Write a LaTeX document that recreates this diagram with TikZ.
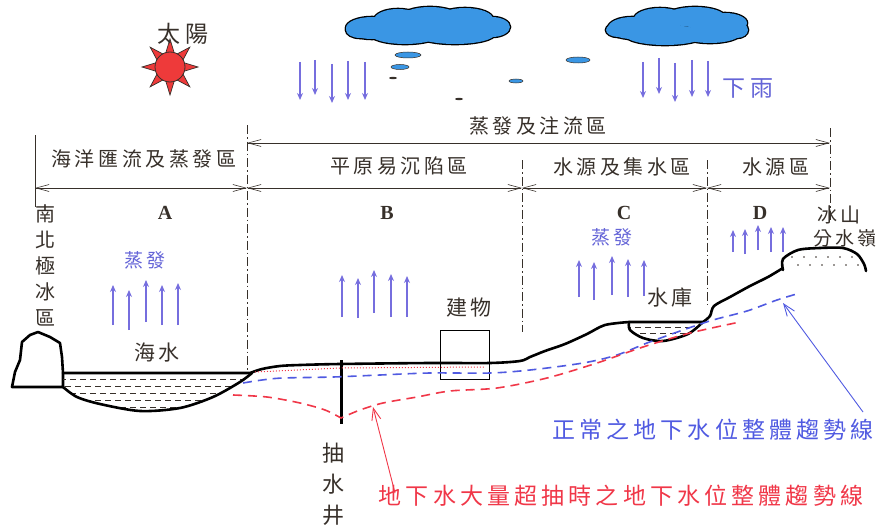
\documentclass[tikz,border=0pt]{standalone}
\usepackage{fontspec}
\usetikzlibrary{arrows.meta}
\newfontfamily\zh{Noto Sans CJK TC}[LetterSpace=18]
\newfontfamily\zhv{Noto Sans CJK TC}
\newfontfamily\lat{Liberation Serif}
\newcommand{\zhsize}[1]{\zh\fontsize{#1}{#1}\selectfont}
\definecolor{ink}{RGB}{55,48,42}
\definecolor{vapor}{RGB}{118,110,222}
\definecolor{vaptext}{RGB}{100,100,215}
\definecolor{normline}{RGB}{80,90,225}
\definecolor{pumpline}{RGB}{240,55,72}
\definecolor{cloudblue}{RGB}{58,150,228}
\definecolor{sunred}{RGB}{238,58,58}
\tikzset{
  dimline/.style={draw=ink, line width=0.6pt, {Straight Barb[length=13pt,width=7pt]}-{Straight Barb[length=13pt,width=7pt]}},
  zoneline/.style={draw=ink, line width=0.9pt, dash pattern=on 9pt off 3pt on 1.5pt off 3pt},
  vapour/.style={draw=vapor, line width=2.2pt, -{Stealth[length=7pt,width=6pt]}},
  ground/.style={draw=black, line width=2.6pt, line join=round, line cap=round},
  hatch/.style={draw=ink, line width=0.9pt, dash pattern=on 6pt off 4pt},
  wtable/.style={line width=1.6pt, dash pattern=on 9pt off 6pt},
  pointer/.style={line width=0.9pt, -{Straight Barb[length=12pt,width=9pt]}},
  puff/.style={draw=black, line width=2.6pt},
}
\begin{document}
\begin{tikzpicture}[x=1pt,y=-1pt]
\useasboundingbox (0,0) rectangle (881,527);

\coordinate (sun) at (170,67);
\foreach \a in {0,45,...,315}
  \draw[fill=sunred, draw=ink, line width=0.7pt, shift={(sun)}] (\a:28) -- (\a+16:15) -- (\a-16:15) -- cycle;
\draw[fill=sunred, draw=ink, line width=0.8pt] (sun) circle (15);
\node[text=ink] (sunlbl) at (183,34){\zhsize{23}太陽};

\foreach \cx/\cy/\rx/\ry in {372/28/26/11, 398/20/24/11, 430/18/30/11, 465/19/28/11, 492/27/18/10, 405/34/35/10, 455/34/40/10, 360/30/14/8, 632/28/24/11, 660/19/26/11, 695/17/30/10, 725/23/22/10, 737/30/11/8, 665/35/40/10, 710/34/30/9, 618/30/12/7}
  \draw[puff] (\cx,\cy) ellipse [x radius=\rx, y radius=\ry];
\foreach \cx/\cy/\rx/\ry in {372/28/26/11, 398/20/24/11, 430/18/30/11, 465/19/28/11, 492/27/18/10, 405/34/35/10, 455/34/40/10, 360/30/14/8, 632/28/24/11, 660/19/26/11, 695/17/30/10, 725/23/22/10, 737/30/11/8, 665/35/40/10, 710/34/30/9, 618/30/12/7}
  \fill[cloudblue] (\cx,\cy) ellipse [x radius=\rx, y radius=\ry];
\filldraw[fill=cloudblue, draw=ink, line width=0.5pt] (408,55) ellipse [x radius=13, y radius=3];
\filldraw[fill=cloudblue, draw=ink, line width=0.5pt] (400,67) ellipse [x radius=9, y radius=2.5];
\filldraw[fill=cloudblue, draw=ink, line width=0.5pt] (578,60) ellipse [x radius=12, y radius=3];
\filldraw[fill=cloudblue, draw=ink, line width=0.5pt] (516,81) ellipse [x radius=7, y radius=2];
\fill[ink] (393,78) ellipse [x radius=4, y radius=1.2];
\fill[ink] (459,99) ellipse [x radius=4, y radius=1.2];

\foreach \x/\t/\b in {300/62/100, 315/60/95, 332/64/103, 348/61/100, 365/62/100, 643/62/98, 659/58/94, 675/63/102, 692/60/97, 708/61/97}
  \draw[vapour] (\x,\t) -- (\x,\b);
\node[text=vaptext] (rain) at (748,88){\zhsize{23}下雨};

\coordinate (t1) at (247,143);
\coordinate (t4) at (830,143);
\coordinate (m0) at (35,188);
\coordinate (m1) at (247,188);
\coordinate (m2) at (522,188);
\coordinate (m3) at (707,188);
\coordinate (m4) at (830,188);
\draw[dimline] (t1) -- (t4);
\draw[dimline] (m0) -- (m1);
\draw[dimline] (m1) -- (m2);
\draw[dimline] (m2) -- (m3);
\draw[dimline] (m3) -- (m4);
\draw[draw=ink, line width=0.8pt] (35,135) -- (35,207);
\draw[zoneline] (247,125) -- (247,372);
\draw[zoneline] (522,160) -- (522,332);
\draw[zoneline] (707,160) -- (707,305);
\draw[zoneline] (830,128) -- (830,222);

\node[text=ink] (topzone) at (538,126){\zhsize{20}蒸發及注流區};
\node[text=ink] (zoneAlbl) at (144,159){\zhsize{20}海洋匯流及蒸發區};
\node[text=ink] (zoneBlbl) at (399,166){\zhsize{20}平原易沉陷區};
\node[text=ink] (zoneClbl) at (622,167){\zhsize{20}水源及集水區};
\node[text=ink] (zoneDlbl) at (776,167){\zhsize{20}水源區};

\node[text=ink] (zoneA) at (165,213){\lat\bfseries\fontsize{20}{20}\selectfont A};
\node[text=ink] (zoneB) at (387,213){\lat\bfseries\fontsize{20}{20}\selectfont B};
\node[text=ink] (zoneC) at (624,213){\lat\bfseries\fontsize{20}{20}\selectfont C};
\node[text=ink] (zoneD) at (760,213){\lat\bfseries\fontsize{20}{20}\selectfont D};

\node[text=ink, align=center, font=\zhv\fontsize{20}{26}\selectfont] (polar) at (45,265){南\\北\\極\\冰\\區};
\node[text=ink, align=center, font=\zhv\fontsize{22}{31}\selectfont] (well) at (333,484){抽\\水\\井};

\node[text=vaptext] (evapA) at (145,260){\zhsize{19}蒸發};
\node[text=vaptext] (evapC) at (612,237){\zhsize{19}蒸發};
\foreach \x/\t/\b in {113/285/325, 129/290/330, 146/280/322, 162/285/325, 178/283/325, 342/275/317, 358/278/318, 374/270/313, 391/274/317, 407/276/317, 579/260/297, 594/262/300, 612/256/295, 628/259/297, 644/260/296, 733/230/252, 745/229/254, 758/225/250, 771/227/252, 783/227/252}
  \draw[vapour] (\x,\b) -- (\x,\t);

\node[text=ink] (sea) at (157,353){\zhsize{21}海水};
\node[text=ink] (bldglbl) at (469,308){\zhsize{21}建物};
\node[text=ink] (reslbl) at (670,298){\zhsize{21}水庫};
\node[text=ink] (peak) at (839,215){\zhsize{20}冰山};
\node[text=ink] (divide) at (845,238){\zhsize{19}分水嶺};

\draw[ground, fill=white] (12,387) -- (15,372) -- (20,360) -- (22,342) -- (30,335) -- (38,332) -- (50,337) -- (60,343) -- (62,357) -- (63,373) -- (63,387) -- cycle;
\begin{scope}
\clip (63,373) -- (252,373) -- plot[smooth] coordinates {(252,373) (240,382) (213,397) (180,408) (140,411) (100,404) (77,397) (63,387)} -- cycle;
\foreach \y/\p in {379/0, 386/5, 393/0, 400/5, 407/0}
  \draw[hatch, dash phase=\p pt] (60,\y) -- (255,\y);
\end{scope}
\draw[ground] plot[smooth] coordinates {(63,387) (77,397) (100,404) (140,411) (180,408) (213,397) (240,382) (252,373)};
\draw[ground] (63,373) -- (250,373) -- plot[smooth, tension=0.5] coordinates {(250,373) (262,369) (280,366) (300,365) (340,364) (430,363) (490,363) (520,361) (530,357) (545,351) (565,344) (587,334) (605,325) (629,322)} -- (703,322) -- plot[smooth, tension=0.5] coordinates {(703,322) (710,316) (714,306) (730,297) (750,286) (768,277) (783,268)};

\begin{scope}
\clip plot[smooth] coordinates {(629,322) (630,330) (643,338) (663,341) (688,334) (703,322)} -- cycle;
\foreach \y/\p in {327/0, 333/5}
  \draw[hatch, dash phase=\p pt] (625,\y) -- (710,\y);
\end{scope}
\draw[ground] plot[smooth] coordinates {(629,322) (630,330) (643,338) (663,341) (688,334) (703,322)};

\fill[white] plot[smooth] coordinates {(783,270) (783,259) (798,250) (820,248) (843,248) (857,254) (864,264) (866,271)} -- cycle;
\foreach \x in {792,804,...,860}
  \fill[ink] (\x,257) circle (0.8);
\foreach \x in {798,810,...,860}
  \fill[ink] (\x,265) circle (0.8);
\draw[ground] plot[smooth] coordinates {(783,270) (783,259) (798,250) (820,248) (843,248) (857,254) (864,264) (866,271)};

\draw[draw=black, line width=1pt] (440,330) rectangle (489,379);
\draw[draw=black, line width=3pt] (341,360) -- (341,424);

\draw[pumpline, line width=1pt, dotted] (255,372) -- (340,368) -- (485,367);
\draw[wtable, normline] plot[smooth] coordinates {(243,383) (262,380) (283,378) (333,377) (380,375) (430,373) (490,373) (530,370) (583,363) (617,355) (647,343) (683,330) (713,320) (747,311) (777,300) (800,293)};
\draw[wtable, pumpline] plot[smooth] coordinates {(233,395) (267,397) (300,403) (325,410) (341,418)} -- plot[smooth] coordinates {(341,418) (360,410) (383,403) (417,397) (450,391) (497,388) (547,378) (597,363) (643,347) (690,333) (740,322)};

\node[text=normline] (normlbl) at (713,430){\zhsize{23}正常之地下水位整體趨勢線};
\coordinate (normfoot) at (863,412);
\coordinate (normtip) at (783,303);
\draw[pointer, normline] (normfoot) -- (normtip);

\node[text=pumpline] (pumplbl) at (621,496){\zhsize{23}地下水大量超抽時之地下水位整體趨勢線};
\coordinate (pumpfoot) at (395,493);
\coordinate (pumptip) at (373,407);
\draw[pointer, pumpline] (pumpfoot) -- (pumptip);
\end{tikzpicture}
\end{document}
